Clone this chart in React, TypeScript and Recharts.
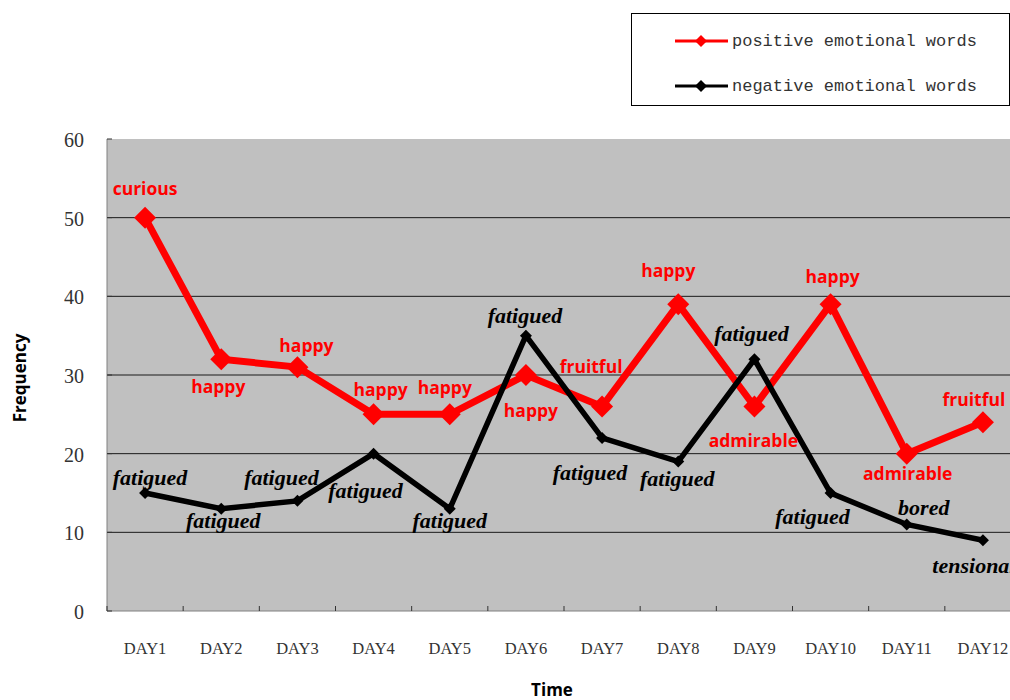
import { LineChart, Line, XAxis, YAxis, CartesianGrid, Legend, LabelList, Label } from 'recharts';

const days = ['DAY1', 'DAY2', 'DAY3', 'DAY4', 'DAY5', 'DAY6', 'DAY7', 'DAY8', 'DAY9', 'DAY10', 'DAY11', 'DAY12'];
const positive = [50, 32, 31, 25, 25, 30, 26, 39, 26, 39, 20, 24];
const negative = [15, 13, 14, 20, 13, 35, 22, 19, 32, 15, 11, 9];
const positiveWords = ['curious', 'happy', 'happy', 'happy', 'happy', 'happy', 'fruitful', 'happy', 'admirable', 'happy', 'admirable', 'fruitful'];
const negativeWords = ['fatigued', 'fatigued', 'fatigued', 'fatigued', 'fatigued', 'fatigued', 'fatigued', 'fatigued', 'fatigued', 'fatigued', 'bored', 'tensional'];
const seriesNames = ['positive emotional words', 'negative emotional words'];
const yTicks = [0, 10, 20, 30, 40, 50, 60];

const data = days.map((day, i) => ({
  day,
  positive: positive[i],
  negative: negative[i],
  posWord: positiveWords[i],
  negWord: negativeWords[i],
}));

// where each word sits relative to its point (dx, dy)
const posNudge = [[0, -30], [-3, 27], [9, -22], [7, -25], [-5, -27], [5, 35], [-11, -40], [-10, -34], [-1, 34], [2, -28], [1, 19], [-9, -23]];
const negNudge = [[5, -16], [2, 12], [-16, -23], [-8, 37], [0, 12], [-1, -20], [-12, 35], [-1, 17], [-3, -26], [-18, 23], [17, -17], [-9, 25]];

const CHART_W = 1030;
const PLOT_LEFT = 107;
const PLOT_RIGHT_MARGIN = 9;
const BAND = (CHART_W - PLOT_LEFT - PLOT_RIGHT_MARGIN) / days.length;

const RED = '#ff0000';
const BLACK = '#000000';

function diamond(cx: number, cy: number, r: number) {
  return `${cx},${cy - r} ${cx + r},${cy} ${cx},${cy + r} ${cx - r},${cy}`;
}

function DayTick({ x, y, payload }: any) {
  return (
    <g>
      <line x1={x - BAND / 2} x2={x - BAND / 2} y1={y - 5} y2={y} stroke="#333" />
      <text x={x} y={y + 37} textAnchor="middle" dominantBaseline="central"
        style={{ fontFamily: 'Liberation Serif', fontSize: 16.5, fill: '#333' }}>
        {payload.value}
      </text>
    </g>
  );
}

function FreqTick({ x, y, payload }: any) {
  return (
    <g>
      <line x1={x} x2={x + 5} y1={y} y2={y} stroke="#333" />
      <text x={x - 23} y={y + 1} textAnchor="end" dominantBaseline="central"
        style={{ fontFamily: 'Liberation Serif', fontSize: 20, fill: '#333' }}>
        {payload.value}
      </text>
    </g>
  );
}

function LegendBox({ payload }: any) {
  const items = [...(payload || [])].sort(
    (a: any, b: any) => seriesNames.indexOf(a.value) - seriesNames.indexOf(b.value),
  );
  return (
    <div style={{ width: 379, height: 93, border: '1px solid #000', boxSizing: 'border-box', background: '#fff', position: 'relative' }}>
      {items.map((p: any, i: number) => (
        <div key={p.value} style={{ position: 'absolute', left: 43, top: 18 + i * 45, height: 18, display: 'flex', alignItems: 'center' }}>
          <svg width={53} height={16}>
            <line x1={0} x2={53} y1={8} y2={8} stroke={p.color} strokeWidth={3} />
            <polygon points={diamond(26, 8, 6)} fill={p.color} />
          </svg>
          <span style={{ marginLeft: 4, fontFamily: 'Liberation Mono', fontSize: 17, color: '#333', whiteSpace: 'nowrap' }}>{p.value}</span>
        </div>
      ))}
    </div>
  );
}

function wordLabel(nudge: number[][], color: string, serif: boolean) {
  return (props: any) => {
    const { x, y, index, value } = props;
    const [dx, dy] = nudge[index] || [0, 0];
    return (
      <text x={x + dx} y={y + dy} textAnchor="middle" dominantBaseline="central"
        style={serif
          ? { fontFamily: 'Liberation Serif', fontWeight: 'bold', fontStyle: 'italic', fontSize: 22, fill: color }
          : { fontFamily: 'Open Sans', fontWeight: 'bold', fontSize: 17.5, fill: color }}>
        {value}
      </text>
    );
  };
}

export default function App() {
  return (
    <div style={{ position: 'fixed', left: 0, top: 0, width: 1010, height: 700, overflow: 'hidden', background: '#fff' }}>
      <LineChart width={CHART_W} height={700} data={data} margin={{ top: 139, right: PLOT_RIGHT_MARGIN, bottom: 0, left: 0 }}>
        <CartesianGrid vertical={false} horizontalValues={[10, 20, 30, 40, 50]} fill="#c0c0c0" fillOpacity={1} stroke="#1a1a1a" />
        <XAxis dataKey="day" scale="band" height={89} tickSize={0} tickMargin={0} tick={<DayTick />}
          axisLine={{ stroke: '#808080' }} tickLine={false} interval={0}>
          <Label value="Time" position="insideBottom" offset={4} dx={-12}
            style={{ fontFamily: 'Open Sans', fontWeight: 'bold', fontSize: 17, fill: '#000' }} />
        </XAxis>
        <YAxis domain={[0, 60]} ticks={yTicks} width={PLOT_LEFT} tickSize={0} tickMargin={0} tick={<FreqTick />}
          axisLine={{ stroke: '#808080' }} tickLine={false} interval={0}>
          <Label value="Frequency" angle={-90} position="insideLeft" offset={20} dy={3}
            style={{ textAnchor: 'middle', fontFamily: 'Open Sans', fontWeight: 'bold', fontSize: 17, fill: '#000' }} />
        </YAxis>
        <Legend layout="vertical" align="center" verticalAlign="middle" content={<LegendBox />}
          wrapperStyle={{ left: 631, top: 13, width: 379, height: 93 }} />
        <Line name={seriesNames[0]} dataKey="positive" stroke={RED} strokeWidth={7} isAnimationActive={false}
          dot={(p: any) => <polygon key={`pd-${p.index}`} points={diamond(p.cx, p.cy, 11)} fill={RED} />}
          activeDot={false}>
          <LabelList dataKey="posWord" content={wordLabel(posNudge, RED, false)} />
        </Line>
        <Line name={seriesNames[1]} dataKey="negative" stroke={BLACK} strokeWidth={5.5} isAnimationActive={false}
          dot={(p: any) => <polygon key={`nd-${p.index}`} points={diamond(p.cx, p.cy, 6)} fill={BLACK} />}
          activeDot={false}>
          <LabelList dataKey="negWord" content={wordLabel(negNudge, BLACK, true)} />
        </Line>
      </LineChart>
    </div>
  );
}
